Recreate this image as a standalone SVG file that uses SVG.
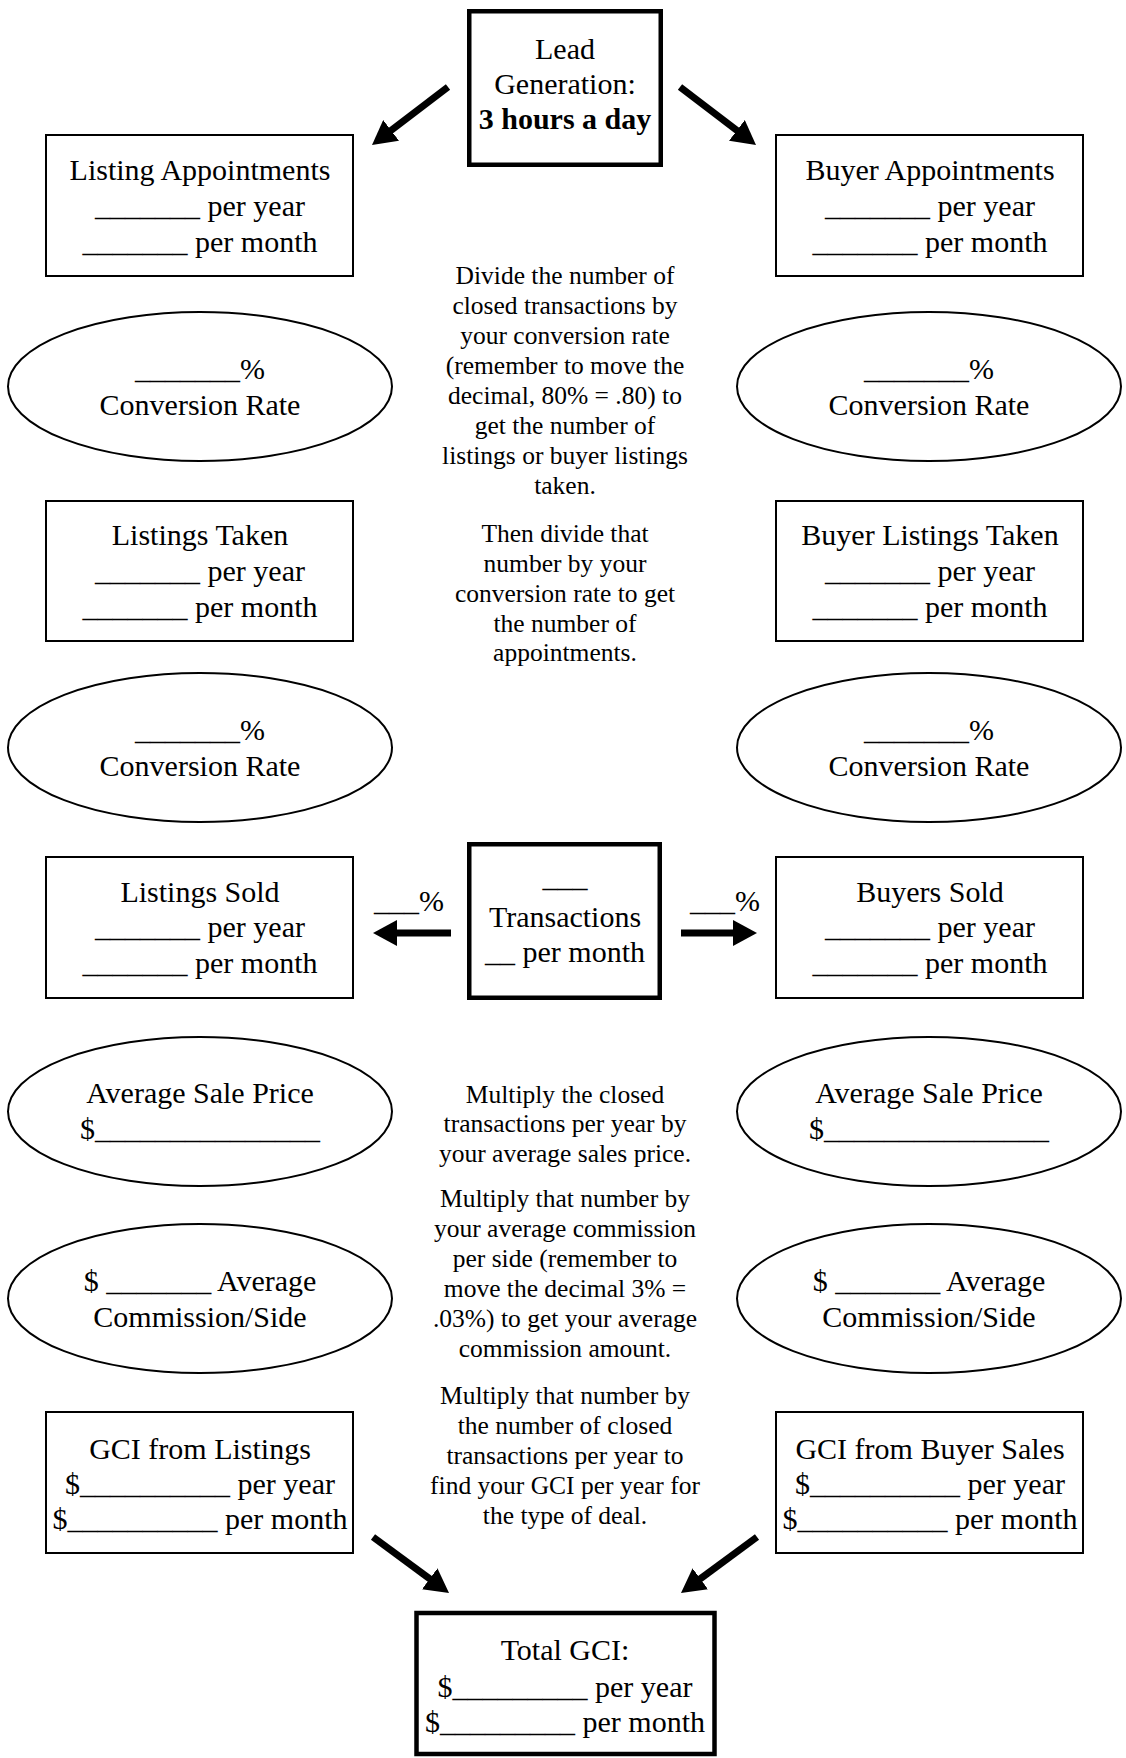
<svg xmlns="http://www.w3.org/2000/svg" width="1126" height="1758" viewBox="0 0 1126 1758">
<style>
.t{font-family:"Liberation Serif","Times New Roman",serif;font-size:30px;text-anchor:middle;fill:#000}
.s{font-size:25.5px}
.b{font-weight:bold}
.box{fill:#fff;stroke:#000;stroke-width:2}
.thick{fill:#fff;stroke:#000;stroke-width:4.5}
.conn{stroke:#000;stroke-width:7;fill:none;marker-end:url(#ah)}
</style>
<defs>
<marker id="ah" markerUnits="userSpaceOnUse" markerWidth="24" markerHeight="26" viewBox="0 0 24 26" refX="1" refY="13" orient="auto">
<path d="M0,0 L24,13 L0,26 Z" fill="#000"/>
</marker>
</defs>
<rect width="1126" height="1758" fill="#fff"/>

<g id="connectors">
<line class="conn" x1="448" y1="87" x2="390.3" y2="131"/>
<line class="conn" x1="680" y1="87" x2="737.7" y2="131"/>
<line class="conn" x1="451" y1="933" x2="396" y2="933"/>
<line class="conn" x1="681" y1="933" x2="734" y2="933"/>
<line class="conn" x1="373" y1="1537" x2="430.5" y2="1579.4"/>
<line class="conn" x1="757" y1="1537" x2="699.5" y2="1579.4"/>
<text class="t" x="409" y="911">___%</text>
<text class="t" x="725" y="911">___%</text>
</g>

<g id="lead-generation">
<rect class="thick" x="469.25" y="11.25" width="191.5" height="153.5"/>
<text class="t" x="565" y="59">Lead</text>
<text class="t" x="565" y="94">Generation:</text>
<text class="t b" x="565" y="129">3 hours a day</text>
</g>

<g id="listing-appointments">
<rect class="box" x="46" y="135" width="307" height="141"/>
<text class="t" x="200" y="180">Listing Appointments</text>
<text class="t" x="200" y="216">_______ per year</text>
<text class="t" x="200" y="252">_______ per month</text>
</g>

<g id="buyer-appointments">
<rect class="box" x="776" y="135" width="307" height="141"/>
<text class="t" x="930" y="180">Buyer Appointments</text>
<text class="t" x="930" y="216">_______ per year</text>
<text class="t" x="930" y="252">_______ per month</text>
</g>

<g id="conversion-rate-listing-1">
<ellipse class="box" cx="200" cy="386.5" rx="192" ry="74.5"/>
<text class="t" x="200" y="379">_______%</text>
<text class="t" x="200" y="415">Conversion Rate</text>
</g>

<g id="conversion-rate-buyer-1">
<ellipse class="box" cx="929" cy="386.5" rx="192" ry="74.5"/>
<text class="t" x="929" y="379">_______%</text>
<text class="t" x="929" y="415">Conversion Rate</text>
</g>

<g id="note-divide">
<text class="t s" x="565" y="284">Divide the number of</text>
<text class="t s" x="565" y="314">closed transactions by</text>
<text class="t s" x="565" y="344">your conversion rate</text>
<text class="t s" x="565" y="374">(remember to move the</text>
<text class="t s" x="565" y="404">decimal, 80% = .80) to</text>
<text class="t s" x="565" y="434">get the number of</text>
<text class="t s" x="565" y="464">listings or buyer listings</text>
<text class="t s" x="565" y="494">taken.</text>
<text class="t s" x="565" y="541.5">Then divide that</text>
<text class="t s" x="565" y="571.5">number by your</text>
<text class="t s" x="565" y="601.5">conversion rate to get</text>
<text class="t s" x="565" y="631.5">the number of</text>
<text class="t s" x="565" y="661">appointments.</text>
</g>

<g id="listings-taken">
<rect class="box" x="46" y="501" width="307" height="140"/>
<text class="t" x="200" y="545">Listings Taken</text>
<text class="t" x="200" y="581">_______ per year</text>
<text class="t" x="200" y="617">_______ per month</text>
</g>

<g id="buyer-listings-taken">
<rect class="box" x="776" y="501" width="307" height="140"/>
<text class="t" x="930" y="545">Buyer Listings Taken</text>
<text class="t" x="930" y="581">_______ per year</text>
<text class="t" x="930" y="617">_______ per month</text>
</g>

<g id="conversion-rate-listing-2">
<ellipse class="box" cx="200" cy="747.5" rx="192" ry="74.5"/>
<text class="t" x="200" y="739.5">_______%</text>
<text class="t" x="200" y="775.5">Conversion Rate</text>
</g>

<g id="conversion-rate-buyer-2">
<ellipse class="box" cx="929" cy="747.5" rx="192" ry="74.5"/>
<text class="t" x="929" y="739.5">_______%</text>
<text class="t" x="929" y="775.5">Conversion Rate</text>
</g>

<g id="listings-sold">
<rect class="box" x="46" y="857" width="307" height="141"/>
<text class="t" x="200" y="902">Listings Sold</text>
<text class="t" x="200" y="937">_______ per year</text>
<text class="t" x="200" y="973">_______ per month</text>
</g>

<g id="transactions">
<rect class="thick" x="469.25" y="844.25" width="190.5" height="153.5"/>
<text class="t" x="565" y="887">___</text>
<text class="t" x="565" y="927">Transactions</text>
<text class="t" x="565" y="962">__ per month</text>
</g>

<g id="buyers-sold">
<rect class="box" x="776" y="857" width="307" height="141"/>
<text class="t" x="930" y="902">Buyers Sold</text>
<text class="t" x="930" y="937">_______ per year</text>
<text class="t" x="930" y="973">_______ per month</text>
</g>

<g id="avg-sale-price-listing">
<ellipse class="box" cx="200" cy="1111.5" rx="192" ry="74.5"/>
<text class="t" x="200" y="1103">Average Sale Price</text>
<text class="t" x="200" y="1139">$_______________</text>
</g>

<g id="avg-sale-price-buyer">
<ellipse class="box" cx="929" cy="1111.5" rx="192" ry="74.5"/>
<text class="t" x="929" y="1103">Average Sale Price</text>
<text class="t" x="929" y="1139">$_______________</text>
</g>

<g id="note-multiply">
<text class="t s" x="565" y="1102.5">Multiply the closed</text>
<text class="t s" x="565" y="1132">transactions per year by</text>
<text class="t s" x="565" y="1162">your average sales price.</text>
<text class="t s" x="565" y="1207">Multiply that number by</text>
<text class="t s" x="565" y="1237">your average commission</text>
<text class="t s" x="565" y="1267">per side (remember to</text>
<text class="t s" x="565" y="1297">move the decimal 3% =</text>
<text class="t s" x="565" y="1327">.03%) to get your average</text>
<text class="t s" x="565" y="1357">commission amount.</text>
<text class="t s" x="565" y="1403.5">Multiply that number by</text>
<text class="t s" x="565" y="1433.5">the number of closed</text>
<text class="t s" x="565" y="1463.5">transactions per year to</text>
<text class="t s" x="565" y="1493.5">find your GCI per year for</text>
<text class="t s" x="565" y="1523.5">the type of deal.</text>
</g>

<g id="avg-commission-listing">
<ellipse class="box" cx="200" cy="1298.5" rx="192" ry="74.5"/>
<text class="t" x="200" y="1291">$ _______ Average</text>
<text class="t" x="200" y="1327">Commission/Side</text>
</g>

<g id="avg-commission-buyer">
<ellipse class="box" cx="929" cy="1298.5" rx="192" ry="74.5"/>
<text class="t" x="929" y="1291">$ _______ Average</text>
<text class="t" x="929" y="1327">Commission/Side</text>
</g>

<g id="gci-listings">
<rect class="box" x="46" y="1412" width="307" height="141"/>
<text class="t" x="200" y="1459">GCI from Listings</text>
<text class="t" x="200" y="1494">$__________ per year</text>
<text class="t" x="200" y="1529">$__________ per month</text>
</g>

<g id="gci-buyer-sales">
<rect class="box" x="776" y="1412" width="307" height="141"/>
<text class="t" x="930" y="1459">GCI from Buyer Sales</text>
<text class="t" x="930" y="1494">$__________ per year</text>
<text class="t" x="930" y="1529">$__________ per month</text>
</g>

<g id="total-gci">
<rect class="thick" x="416.5" y="1613" width="298" height="141"/>
<text class="t" x="565" y="1660">Total GCI:</text>
<text class="t" x="565" y="1697">$_________ per year</text>
<text class="t" x="565" y="1732">$_________ per month</text>
</g>
</svg>
